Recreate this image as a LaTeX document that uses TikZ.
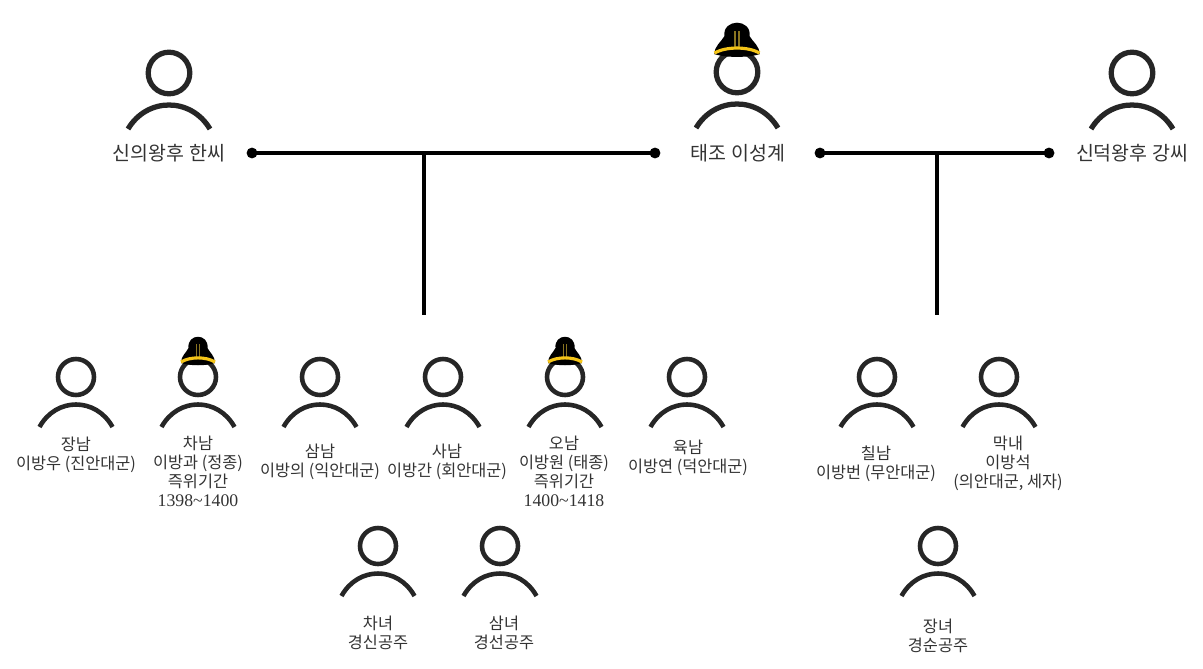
\documentclass[tikz,border=0pt]{standalone}
\usepackage{fontspec}
\setmainfont{Noto Sans CJK KR}
\newfontfamily\numfont{Liberation Serif}
\usepackage{xcolor}
\usetikzlibrary{positioning}
\definecolor{FamDark}{HTML}{262626}
\definecolor{FamText}{HTML}{333333}
\definecolor{FamGold}{HTML}{F5C518}
\definecolor{FamStripe}{HTML}{8A7420}
\tikzset{
  person/.pic={
    \draw[FamDark,line width=2.6pt,fill=white] (0,0) circle (18);
    \draw[FamDark,line width=2.6pt] (-36.5,50) .. controls (-20,20) and (20,20) .. (36.5,50);
  },
  crown/.pic={
    \fill[black] (-17,-14) .. controls (-17,-21) and (-12,-24) .. (-9.5,-29)
      .. controls (-11,-44) and (11,-44) .. (9.5,-29)
      .. controls (12,-24) and (17,-21) .. (17,-14)
      .. controls (8,-11) and (-8,-11) .. cycle;
    \draw[FamStripe,line width=0.8pt] (-1.5,-33) -- (-1.5,-20) (1.5,-33) -- (1.5,-20);
    \draw[FamGold,line width=1.8pt] (-17,-15) .. controls (-8,-20.5) and (8,-20.5) .. (17,-15);
  },
  bigperson/.pic={
    \draw[FamDark,line width=3pt,fill=white] (0,0) circle (20.8);
    \draw[FamDark,line width=3pt] (-41,56) .. controls (-22,24) and (22,24) .. (41,56);
  },
  famdot/.style={circle,fill=black,inner sep=0pt,minimum size=6.2pt},
  famline/.style={black,line width=2.1pt},
  biglabel/.style={text=FamText,font=\fontsize{11.1}{12.5}\selectfont,inner sep=0pt},
  smalllabel/.style={text=FamText,align=center,font=\fontsize{9.3}{10.8}\selectfont,inner sep=0pt},
}
\newcommand{\yearfont}{\numfont\fontsize{10.1}{10.8}\selectfont}
\begin{document}
\begin{tikzpicture}[x=0.02cm,y=-0.02cm]
\useasboundingbox (0,0) rectangle (1203,669);
% parents
\pic at (169,73) {bigperson};
\pic at (737,72) {bigperson};
\pic at (1132,73) {bigperson};
\pic[xscale=1.33,yscale=1.2] at (737,71) {crown};
\node[biglabel] (hanLabel) at (169,153) {신의왕후 한씨};
\node[biglabel] (taejoLabel) at (738,153) {태조 이성계};
\node[biglabel] (kangLabel) at (1132,153) {신덕왕후 강씨};
% family lines
\node[famdot] (hanDot) at (252,153) {};
\node[famdot] (taejoDotL) at (655,153) {};
\node[famdot] (taejoDotR) at (820,153) {};
\node[famdot] (kangDot) at (1049,153) {};
\draw[famline] (hanDot.center) -- (taejoDotL.center);
\draw[famline] (taejoDotR.center) -- (kangDot.center);
\coordinate (hanJoin) at (424,153);
\coordinate (hanEnd) at (424,315);
\coordinate (kangJoin) at (937,153);
\coordinate (kangEnd) at (937,315);
\draw[famline] (hanJoin) -- (hanEnd);
\draw[famline] (kangJoin) -- (kangEnd);
% children
\foreach \px/\py in {76/377,198/377,320/377,443/377,565/377,687/377,877/377,999/377,378/546,500/546,938/546}
  \pic at (\px,\py) {person};
\pic at (198,377) {crown};
\pic at (565,377) {crown};
\foreach \lx/\ly/\name/\txt in {
  76/455/son1/{장남\\이방우 (진안대군)},
  198/471/son2/{차남\\이방과 (정종)\\즉위기간\\{\yearfont 1398\textasciitilde 1400}},
  320/462/son3/{삼남\\이방의 (익안대군)},
  447/462/son4/{사남\\이방간 (회안대군)},
  564/471/son5/{오남\\이방원 (태종)\\즉위기간\\{\yearfont 1400\textasciitilde 1418}},
  688/458/son6/{육남\\이방연 (덕안대군)},
  876/464/son7/{칠남\\이방번 (무안대군)},
  1008/463/son8/{막내\\이방석\\(의안대군, 세자)},
  378/633/dau2/{차녀\\경신공주},
  504/633/dau3/{삼녀\\경선공주},
  938/636/dau1/{장녀\\경순공주}}
  \node[smalllabel] (\name) at (\lx,\ly) {\txt};
\end{tikzpicture}
\end{document}
